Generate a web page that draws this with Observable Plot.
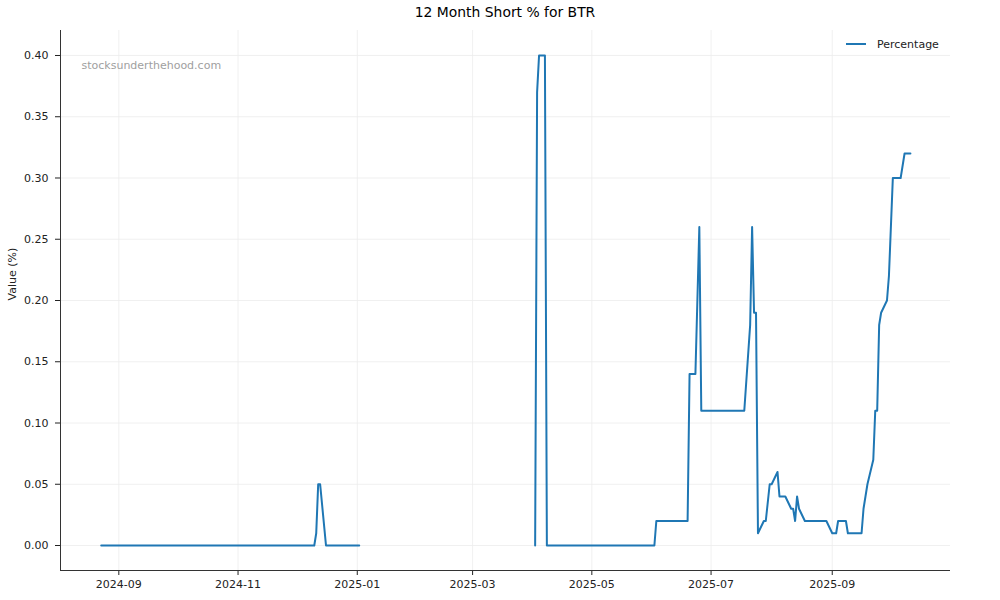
<!DOCTYPE html>
<html><head><meta charset="utf-8">
<script src="https://cdn.jsdelivr.net/npm/d3@7"></script>
<script src="https://cdn.jsdelivr.net/npm/@observablehq/plot@0.6"></script>
<style>
body{margin:0;background:#fff;font-family:"DejaVu Sans",sans-serif;}
#wrap{position:relative;width:1000px;height:600px;overflow:hidden;}
#title{height:22px;line-height:24px;font-size:13.9px;text-align:center;margin-left:60px;width:890px;color:#000;}
#legline{position:absolute;left:846px;top:43px;width:20px;height:2px;background:#1f77b4;}
#legtext{position:absolute;left:877px;top:38px;font-size:11px;line-height:14px;color:#222;}
svg{display:block;}
</style>
</head><body>
<div id="wrap">
<div id="title">12 Month Short % for BTR</div>
<div id="chart"></div>
<div id="legline"></div>
<div id="legtext">Percentage</div>
</div>
<script>
const dates = [
"2024-08-23","2024-12-10","2024-12-11","2024-12-12","2024-12-13","2024-12-16","2025-01-02",
"2025-02-15",
"2025-04-02","2025-04-03","2025-04-04","2025-04-07","2025-04-08",
"2025-06-02","2025-06-03","2025-06-19","2025-06-20","2025-06-23","2025-06-25","2025-06-26",
"2025-07-18","2025-07-21","2025-07-22","2025-07-23","2025-07-24","2025-07-25","2025-07-28",
"2025-07-29","2025-07-31","2025-08-01","2025-08-04","2025-08-05","2025-08-08","2025-08-11",
"2025-08-12","2025-08-13","2025-08-14","2025-08-15","2025-08-18","2025-08-29","2025-09-01",
"2025-09-03","2025-09-04","2025-09-08","2025-09-09","2025-09-16","2025-09-17","2025-09-19",
"2025-09-22","2025-09-23","2025-09-24","2025-09-25","2025-09-26","2025-09-29","2025-09-30",
"2025-10-02","2025-10-06","2025-10-08","2025-10-11"
];
const values = [
0,0,0.01,0.05,0.05,0,0,
null,
0,0.37,0.40,0.40,0,
0,0.02,0.02,0.14,0.14,0.26,0.11,
0.11,0.18,0.26,0.19,0.19,0.01,0.02,
0.02,0.05,0.05,0.06,0.04,0.04,0.03,
0.03,0.02,0.04,0.03,0.02,0.02,0.01,
0.01,0.02,0.02,0.01,0.01,0.03,0.05,
0.07,0.11,0.11,0.18,0.19,0.20,0.22,
0.30,0.30,0.32,0.32
];
const xTickLabels = ["2024-09","2024-11","2025-01","2025-03","2025-05","2025-07","2025-09"];
const yTicks = [0,0.05,0.10,0.15,0.20,0.25,0.30,0.35,0.40];
const seriesName = "Percentage";

const parse = d3.utcParse("%Y-%m-%d");
const rows = dates.map((d,i)=>({date: parse(d), value: values[i]}));
const xTicks = xTickLabels.map(s=>parse(s+"-01"));
const xDomain = [new Date(Date.UTC(2024,7,2,4)), new Date(Date.UTC(2025,9,31,12))];
const yDomain = [-0.0204, 0.4204];

const chart = Plot.plot({
  width: 1000, height: 578,
  marginTop: 8, marginBottom: 30, marginLeft: 60, marginRight: 50,
  style: {fontFamily: "DejaVu Sans", fontSize: "11px", color: "#222", background: "#fff"},
  x: {type: "utc", domain: xDomain},
  y: {domain: yDomain},
  marks: [
    Plot.gridX(xTicks, {stroke: "#ececec", strokeOpacity: 1, strokeWidth: 0.8}),
    Plot.gridY(yTicks, {stroke: "#ececec", strokeOpacity: 1, strokeWidth: 0.8}),
    Plot.axisX(xTicks, {tickFormat: d3.utcFormat("%Y-%m"), tickSize: 5, tickPadding: 5, label: null, fill: "#222"}),
    Plot.axisY(yTicks, {tickFormat: d3.format(".2f"), tickSize: 5, tickPadding: 7, label: null, fill: "#222"}),
    Plot.ruleX([xDomain[0]], {stroke: "#333", strokeWidth: 1}),
    Plot.ruleY([yDomain[0]], {stroke: "#333", strokeWidth: 1}),
    Plot.line(rows, {x: "date", y: "value", stroke: "#1f77b4", strokeWidth: 2}),
    Plot.text(["stocksunderthehood.com"], {frameAnchor: "top-left", dx: 21, dy: 31, fill: "#a0a0a0", textAnchor: "start", fontSize: 11}),
    Plot.text(["Value (%)"], {frameAnchor: "left", dx: -48, rotate: -90, fontSize: 11, fill: "#222"})
  ]
});
document.getElementById("chart").appendChild(chart);
document.getElementById("legtext").textContent = seriesName;
</script>
</body></html>
